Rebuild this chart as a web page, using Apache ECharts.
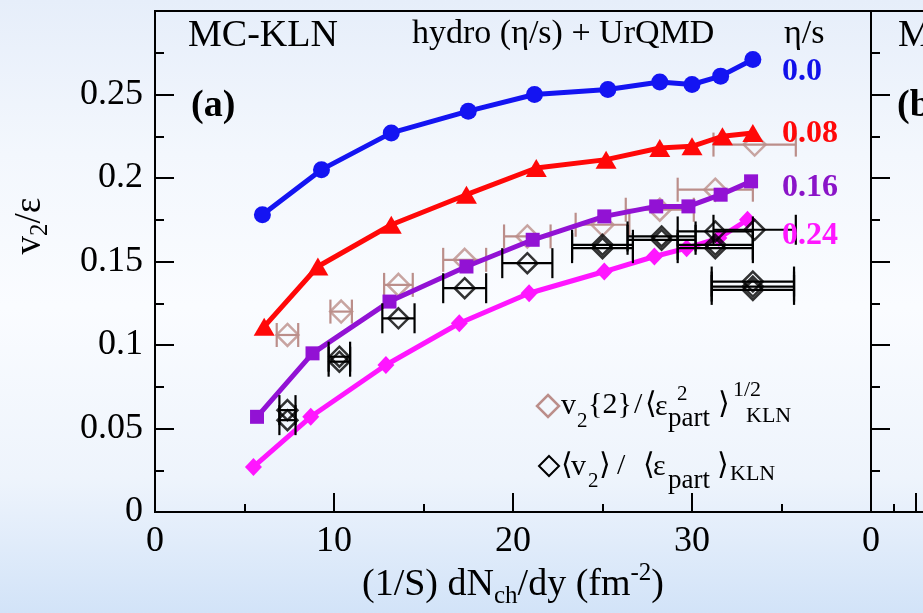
<!DOCTYPE html>
<html>
<head>
<meta charset="utf-8">
<script src="https://cdn.jsdelivr.net/npm/echarts@6/dist/echarts.min.js"></script>
<style>
html, body { margin: 0; padding: 0; }
body {
  width: 923px; height: 613px;
  background: linear-gradient(to bottom, #e6eefa 0%, #f3f7fd 25%, #fafcff 50%, #eef4fc 78%, #d2e3f8 100%);
}
#chart { width: 923px; height: 613px; }
</style>
</head>
<body>
<div id="chart"></div>
<script>
// hydro + UrQMD curves, one per eta/s
var etaLabels = ['0.0', '0.08', '0.16', '0.24'];
var x00 = [6.0, 9.3, 13.2, 17.5, 21.2, 25.3, 28.2, 30.0, 31.6, 33.4];
var y00 = [0.178, 0.205, 0.227, 0.240, 0.250, 0.253, 0.2575, 0.256, 0.261, 0.271];
var x08 = [6.1, 9.1, 13.2, 17.4, 21.3, 25.2, 28.2, 30.0, 31.7, 33.4];
var y08 = [0.111, 0.147, 0.172, 0.190, 0.206, 0.211, 0.218, 0.219, 0.225, 0.227];
var x16 = [5.7, 8.8, 13.1, 17.4, 21.1, 25.1, 28.0, 29.8, 31.6, 33.3];
var y16 = [0.057, 0.095, 0.126, 0.147, 0.163, 0.177, 0.183, 0.183, 0.190, 0.198];
var x24 = [5.5, 8.7, 12.9, 17.0, 20.9, 25.1, 27.9, 29.7, 31.5, 33.1];
var y24 = [0.027, 0.057, 0.088, 0.113, 0.131, 0.144, 0.153, 0.158, 0.164, 0.175];

// v2{2} / <eps^2>^1/2  (with x errors)
var x2 = [7.4, 10.4, 13.6, 17.3, 20.8, 25.0, 28.2, 31.3, 33.5];
var y2 = [0.106, 0.120, 0.136, 0.151, 0.165, 0.172, 0.181, 0.193, 0.220];
var e2 = [0.6, 0.6, 0.8, 1.2, 1.3, 1.5, 1.9, 2.1, 2.3];

// <v2> / <eps>  (several overlapping sets)
var xm = [7.4, 7.4, 10.3, 10.3, 13.6, 17.3, 20.8, 25.0, 25.0, 28.3, 28.3, 31.3, 31.3, 31.3, 33.5, 33.4, 33.4, 33.4];
var ym = [0.061, 0.055, 0.093, 0.090, 0.116, 0.134, 0.149, 0.160, 0.158, 0.165, 0.163, 0.168, 0.160, 0.158, 0.169, 0.138, 0.135, 0.133];
var em = [0.45, 0.45, 0.6, 0.6, 0.9, 1.2, 1.4, 1.7, 1.7, 1.9, 1.9, 2.1, 2.1, 2.1, 2.3, 2.3, 2.3, 2.3];

var xTicks = [0, 10, 20, 30];
var yTicks = [0, 0.05, 0.1, 0.15, 0.2, 0.25];

var FONT = "'Liberation Serif', 'DejaVu Serif', serif";
var colors = ['#1414f2', '#ff0808', '#9212d4', '#ff16ff'];
var labelColors = ['#1010ea', '#ff0808', '#8a14c8', '#ff16ff'];
var BROWN = '#bb8e8a';

function pairs(xs, ys) {
  return xs.map(function (v, i) { return [v, ys[i]]; });
}
function triples(xs, ys, es) {
  return xs.map(function (v, i) { return [v, ys[i], es[i]]; });
}

// horizontal error bar with end caps
function errBar(color, cap) {
  return function (params, api) {
    var x = api.value(0), y = api.value(1), e = api.value(2);
    var a = api.coord([x - e, y]), b = api.coord([x + e, y]);
    var st = { stroke: color, lineWidth: 2.2 };
    return {
      type: 'group',
      children: [
        { type: 'line', shape: { x1: a[0], y1: a[1], x2: b[0], y2: b[1] }, style: st },
        { type: 'line', shape: { x1: a[0], y1: a[1] - cap, x2: a[0], y2: a[1] + cap }, style: st },
        { type: 'line', shape: { x1: b[0], y1: b[1] - cap, x2: b[0], y2: b[1] + cap }, style: st }
      ]
    };
  };
}

function txt(s, x, y, size, extra) {
  return {
    type: 'text', x: x, y: y, z: 100,
    style: Object.assign({
      text: s, fontFamily: FONT, fontSize: size, fill: '#000',
      align: 'left', verticalAlign: 'middle'
    }, extra || {})
  };
}

var tickLabel = { fontFamily: FONT, fontSize: 36, color: '#000' };

function xAxisFor(grid, labelFn) {
  return {
    type: 'value', gridIndex: grid, min: 0, max: 40, interval: 10,
    axisLine: { onZero: false, lineStyle: { color: '#000', width: 2 } },
    axisTick: { inside: true, length: 19, lineStyle: { color: '#000', width: 2 } },
    minorTick: { show: true, splitNumber: 2, length: 8, lineStyle: { color: '#000', width: 2 } },
    splitLine: { show: false },
    axisLabel: Object.assign({ margin: 12, formatter: labelFn }, tickLabel)
  };
}
function yAxisFor(grid, showLabels) {
  return {
    type: 'value', gridIndex: grid, min: 0, max: 0.3, interval: 0.05,
    axisLine: { onZero: false, lineStyle: { color: '#000', width: 2 } },
    axisTick: { inside: true, length: 19, lineStyle: { color: '#000', width: 2 } },
    minorTick: { show: true, splitNumber: 2, length: 9, lineStyle: { color: '#000', width: 2 } },
    splitLine: { show: false },
    axisLabel: Object.assign({
      show: showLabels, margin: 12,
      formatter: function (v) {
        var s = +v.toFixed(3);
        return yTicks.indexOf(s) >= 0 ? String(s) : '';
      }
    }, tickLabel)
  };
}

var lineSymbols = ['circle', 'triangle', 'rect', 'diamond'];
var lineSizes = [17, [21, 18], 14, [17, 18]];
var lineX = [x00, x08, x16, x24];
var lineY = [y00, y08, y16, y24];

var series = [];
// brown points go under the curves
series.push({
  type: 'custom', xAxisIndex: 0, yAxisIndex: 0, z: 2,
  renderItem: errBar(BROWN, 12), encode: { x: 0, y: 1 },
  data: triples(x2, y2, e2)
});
series.push({
  type: 'scatter', xAxisIndex: 0, yAxisIndex: 0, z: 2,
  symbol: 'diamond', symbolSize: 22,
  itemStyle: { color: 'rgba(0,0,0,0)', borderColor: BROWN, borderWidth: 2.5 },
  data: pairs(x2, y2)
});
lineX.forEach(function (xs, i) {
  series.push({
    type: 'line', name: etaLabels[i], xAxisIndex: 0, yAxisIndex: 0, z: 3,
    symbol: lineSymbols[i], symbolSize: lineSizes[i],
    lineStyle: { color: colors[i], width: 5 },
    itemStyle: { color: colors[i] },
    data: pairs(xs, lineY[i])
  });
});
series.push({
  type: 'custom', xAxisIndex: 0, yAxisIndex: 0, z: 4,
  renderItem: errBar('#000', 15), encode: { x: 0, y: 1 },
  data: triples(xm, ym, em)
});
series.push({
  type: 'scatter', xAxisIndex: 0, yAxisIndex: 0, z: 4,
  symbol: 'diamond', symbolSize: 20,
  itemStyle: { color: 'rgba(0,0,0,0)', borderColor: '#000', borderWidth: 2.5 },
  data: pairs(xm, ym)
});

var sub = { fontFamily: FONT, fontSize: 25, verticalAlign: 'bottom', lineHeight: 25 };
var sup = { fontFamily: FONT, fontSize: 25, verticalAlign: 'top', lineHeight: 25 };

var graphics = [
  txt('MC-KLN', 188, 36, 38),
  txt('hydro (η/s) + UrQMD', 412, 34, 34),
  txt('η/s', 784, 34, 34),
  txt('(a)', 191, 106, 38, { fontWeight: 'bold' }),
  // partial right panel
  txt('MC-KLN', 898, 36, 38),
  txt('(b)', 897, 106, 38, { fontWeight: 'bold' }),
  // eta/s values
  txt(etaLabels[0], 782, 72, 32, { fontWeight: 'bold', fill: labelColors[0] }),
  txt(etaLabels[1], 782, 134, 32, { fontWeight: 'bold', fill: labelColors[1] }),
  txt(etaLabels[2], 782, 188, 32, { fontWeight: 'bold', fill: labelColors[2] }),
  txt(etaLabels[3], 782, 236, 32, { fontWeight: 'bold', fill: labelColors[3] }),
  // axis titles
  {
    type: 'text', x: 30, y: 226, rotation: Math.PI / 2, z: 100,
    style: {
      text: '{m|v}{s|2}{m|/ε}', align: 'center', verticalAlign: 'middle',
      rich: { m: { fontFamily: FONT, fontSize: 37, lineHeight: 46 }, s: sub }
    }
  },
  {
    type: 'text', x: 513, y: 585, z: 100,
    style: {
      text: '{m|(1/S) dN}{s|ch}{m|/dy (fm}{p|-2}{m|)}', align: 'center', verticalAlign: 'middle',
      rich: { m: { fontFamily: FONT, fontSize: 38, lineHeight: 48 }, s: sub, p: sup }
    }
  },
  // legend
  { type: 'polygon', z: 100, shape: { points: [[548, 395], [559, 406], [548, 417], [537, 406]] },
    style: { fill: 'none', stroke: BROWN, lineWidth: 2.5 } },
  txt('v', 561, 406, 30),
  txt('2', 577, 421, 21),
  txt('{2}', 588, 405, 30),
  txt('/', 634, 405, 30),
  txt('⟨', 645, 405, 30),
  txt('ε', 655, 407, 30),
  txt('2', 677, 394, 21),
  txt('part', 668, 419, 27),
  txt('⟩', 718, 405, 30),
  txt('1/2', 733, 390, 22),
  txt('KLN', 746, 416, 22),
  { type: 'polygon', z: 100, shape: { points: [[549, 456], [559, 466], [549, 476], [539, 466]] },
    style: { fill: 'none', stroke: '#000', lineWidth: 2 } },
  txt('⟨', 561, 466, 30),
  txt('v', 571, 467, 30),
  txt('2', 588, 481, 21),
  txt('⟩', 599, 466, 30),
  txt('/', 617, 466, 30),
  txt('⟨', 643, 466, 30),
  txt('ε', 653, 467, 30),
  txt('part', 668, 481, 27),
  txt('⟩', 717, 466, 30),
  txt('KLN', 730, 474, 22)
];

var chart = echarts.init(document.getElementById('chart'));
chart.setOption({
  animation: false,
  backgroundColor: 'transparent',
  grid: [
    { left: 155, top: 11, bottom: 101, width: 716, show: true, borderColor: '#000', borderWidth: 2, backgroundColor: 'transparent' },
    { left: 871, top: 11, bottom: 101, width: 716, show: true, borderColor: '#000', borderWidth: 2, backgroundColor: 'transparent' }
  ],
  xAxis: [
    xAxisFor(0, function (v) { return xTicks.indexOf(v) >= 0 ? String(v) : ''; }),
    xAxisFor(1, function (v) { return v === 0 ? '0' : ''; })
  ],
  yAxis: [yAxisFor(0, true), yAxisFor(1, false)],
  series: series,
  graphic: graphics
});
window.addEventListener('resize', function () { chart.resize(); });
</script>
</body>
</html>
